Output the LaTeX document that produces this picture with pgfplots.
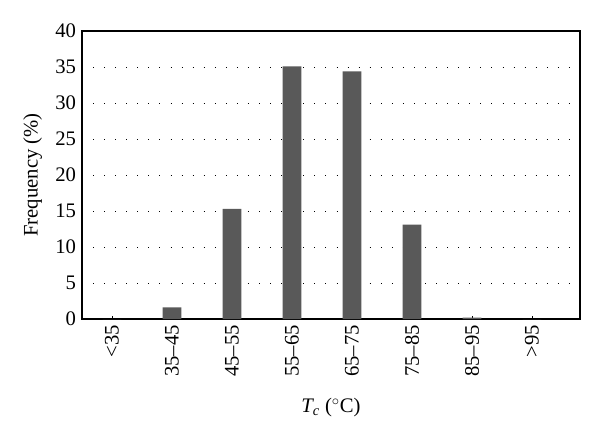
\documentclass[border=0pt]{standalone}
\usepackage{pgfplots}
\pgfplotsset{compat=1.18}
\usepackage{fontspec}
\setmainfont{Liberation Serif}
\definecolor{barc}{HTML}{595959}
\begin{document}
\begin{tikzpicture}
\path (-61.5pt,-90.75pt) rectangle (388.5pt,239.25pt);
\begin{axis}[
  at={(0,0)}, anchor=south west,
  scale only axis, width=373.5pt, height=216pt,
  xmin=-0.5, xmax=7.8, ymin=0, ymax=40,
  ytick={0,5,...,40},
  xtick={0,...,7},
  xticklabels={<35,35–45,45–55,55–65,65–75,75–85,85–95,>95},
  xticklabel style={rotate=90, anchor=east, font=\fontsize{15.5}{17}\selectfont, xshift=-1pt},
  yticklabel style={font=\fontsize{15.5}{17}\selectfont, xshift=-1pt},
  /pgf/number format/assume math mode=true,
  tick align=inside, major tick length=2.5pt,
  ymajorgrids,
  grid style={black, line width=0.7pt, dash pattern=on 0.7pt off 7.6pt},
  axis line style={line width=0.9pt},
  tick style={black, line width=0.6pt},
  ytick style={draw=none},
  xtick pos=bottom,
  ylabel={Frequency (\%)},
  xlabel={\textit{T\textsubscript{c}} ($^\circ$C)},
  label style={font=\fontsize{15.5}{17}\selectfont},
  ylabel style={yshift=3pt},
  xlabel style={yshift=-9pt},
]
\addplot[ybar, bar width=14pt, fill=barc, draw=none] coordinates {
 (0,0) (1,1.6) (2,15.3) (3,35.1) (4,34.4) (5,13.1) (6,0.2) (7,0)
};
\end{axis}
\end{tikzpicture}
\end{document}
